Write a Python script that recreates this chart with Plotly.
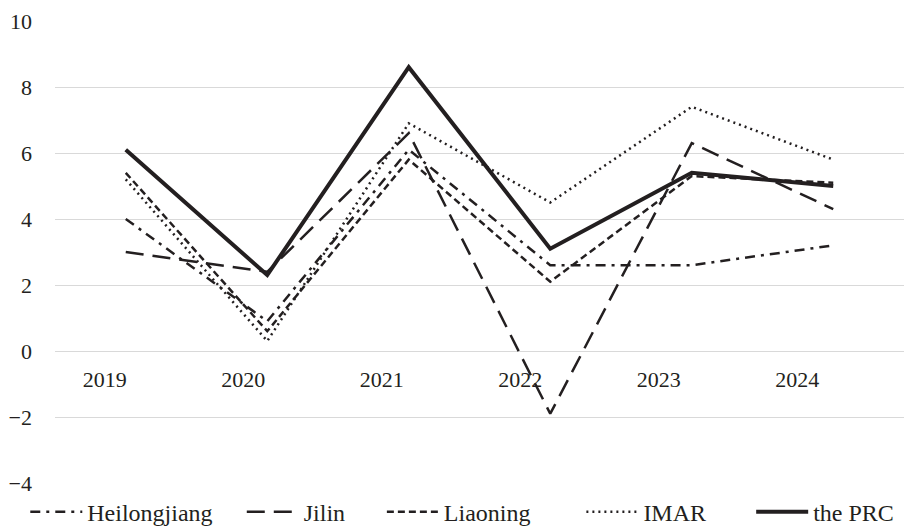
import plotly.graph_objects as go

years = ["2019", "2020", "2021", "2022", "2023", "2024"]
heilongjiang = [4.0, 0.9, 6.1, 2.6, 2.6, 3.2]
jilin = [3.0, 2.4, 6.6, -1.9, 6.3, 4.3]
liaoning = [5.4, 0.6, 5.8, 2.1, 5.3, 5.1]
imar = [5.2, 0.3, 6.9, 4.5, 7.4, 5.8]
prc = [6.1, 2.3, 8.6, 3.1, 5.4, 5.0]
y_ticks = [-4, -2, 0, 2, 4, 6, 8, 10]

INK = "#231f20"
FONT = "Liberation Serif, Times New Roman, serif"

# name, values, dash, width, legend x (paper fraction)
series = [
    ("Heilongjiang", heilongjiang, "10px,6px,3px,6px", 2.5, -0.035),
    ("Jilin", jilin, "18px,9px", 2.5, 0.22),
    ("Liaoning", liaoning, "7px,4px", 2.5, 0.385),
    ("IMAR", imar, "2px,4px", 2.5, 0.62),
    ("the PRC", prc, "solid", 4, 0.82),
]

fig = go.Figure()
idx = list(range(len(years)))
legends = {}
for i, (name, vals, dash, w, lx) in enumerate(series):
    key = "legend" if i == 0 else f"legend{i + 1}"
    fig.add_trace(go.Scatter(
        x=idx, y=vals, mode="lines", name=name, legend=key,
        line=dict(color=INK, width=w, dash=dash),
    ))
    legends[key] = dict(orientation="h", x=lx, xanchor="left", y=-0.063,
                        yanchor="middle",
                        font=dict(family=FONT, size=24, color=INK),
                        itemwidth=52, bgcolor="rgba(0,0,0,0)")

# invisible helper trace so the label axis is drawn
fig.add_trace(go.Scatter(x=idx, y=[None] * len(idx), xaxis="x2",
                         mode="lines", showlegend=False, hoverinfo="skip"))

fig.update_layout(
    width=906, height=523,
    margin=dict(l=47, r=10, t=13, b=48, autoexpand=False),
    paper_bgcolor="white", plot_bgcolor="white",
    font=dict(family=FONT, size=22, color=INK),
    xaxis=dict(range=[-0.5, 5.5], showgrid=False, zeroline=False,
               showticklabels=False, showline=False, automargin=False),
    xaxis2=dict(overlaying="x", anchor="free", position=4 / 14,
                range=[-0.36, 5.77], tickmode="array", tickvals=idx,
                ticktext=years, showgrid=False, zeroline=False,
                showline=False, ticks="", ticklabelstandoff=13,
                automargin=False,
                tickfont=dict(family=FONT, size=22, color=INK)),
    yaxis=dict(range=[-4, 10], tickvals=y_ticks,
               ticktext=[("\u2212" + str(abs(v))) if v < 0 else str(v) for v in y_ticks],
               showgrid=True, gridcolor="#d9d9d9", gridwidth=1.2,
               zeroline=False, showline=False, ticks="",
               ticklabelstandoff=22, automargin=False,
               tickfont=dict(family=FONT, size=22, color=INK)),
    showlegend=True,
    **legends,
)

fig.write_html("out.html")
